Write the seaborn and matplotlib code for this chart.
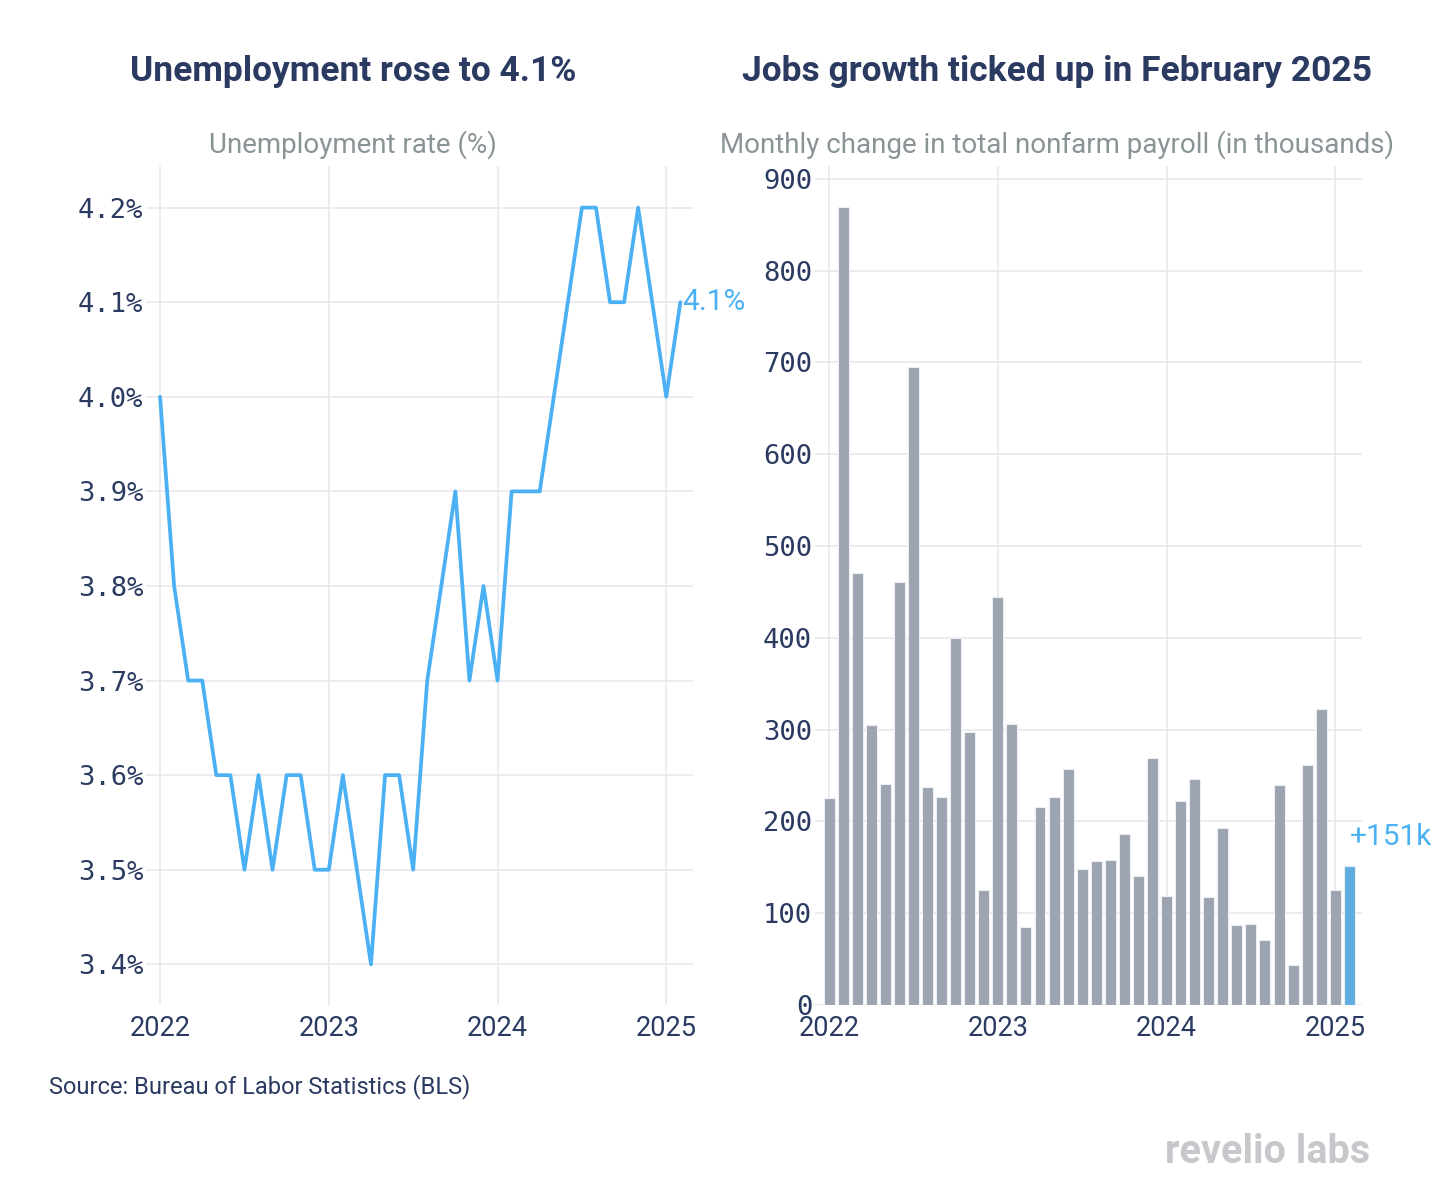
import numpy as np
import pandas as pd
import matplotlib
matplotlib.use("Agg")
import matplotlib.pyplot as plt
import seaborn as sns

sns.set_theme(style="white")
plt.rcParams["font.family"] = ["Roboto", "DejaVu Sans"]

# --- data: Jan 2022 .. Feb 2025, one value per month ---
months = pd.date_range("2022-01-01", "2025-02-01", freq="MS")
unemployment = [4.0, 3.8, 3.7, 3.7, 3.6, 3.6, 3.5, 3.6, 3.5, 3.6, 3.6, 3.5,
                3.5, 3.6, 3.5, 3.4, 3.6, 3.6, 3.5, 3.7, 3.8, 3.9, 3.7, 3.8,
                3.7, 3.9, 3.9, 3.9, 4.0, 4.1, 4.2, 4.2, 4.1, 4.1, 4.2, 4.1,
                4.0, 4.1]
payroll = [225, 869, 471, 305, 241, 461, 695, 237, 227, 400, 297, 125,
           444, 306, 85, 216, 227, 257, 148, 157, 158, 186, 141, 269,
           119, 222, 246, 118, 193, 87, 88, 71, 240, 44, 261, 323,
           125, 151]
year_ticks = [0, 12, 24, 36]
year_labels = ["2022", "2023", "2024", "2025"]
rate_ticks = [3.4, 3.5, 3.6, 3.7, 3.8, 3.9, 4.0, 4.1, 4.2]
payroll_ticks = [0, 100, 200, 300, 400, 500, 600, 700, 800, 900]

df = pd.DataFrame({
    "month": months,
    "idx": np.arange(len(months)),
    "rate": unemployment,
    "payroll": payroll,
})
df["latest"] = df["idx"] == df["idx"].max()

NAVY = "#2b3a60"
GRAY_TXT = "#8a9497"
BLUE = "#4bb1f4"
BAR = "#9aa3b4"
GRID = "#e8e8ee"

W, H = 1446, 1198
fig = plt.figure(figsize=(W / 100, H / 100), dpi=100)
fig.patch.set_facecolor("white")


def box(x0, x1, y0, y1):
    # pixel box -> figure fraction
    return [x0 / W, 1 - y1 / H, (x1 - x0) / W, (y1 - y0) / H]


ax1 = fig.add_axes(box(146, 693, 166, 1005))
ax2 = fig.add_axes(box(815, 1362, 166, 1005))

# --- left: unemployment line ---
sns.lineplot(data=df, x="idx", y="rate", ax=ax1, color=BLUE, linewidth=2.7)
ax1.set_xlim(-1.0, 37.9)
ax1.set_ylim(3.357, 4.244)
ax1.set_yticks(rate_ticks)
ax1.set_yticklabels([f"{v:.1f}%" for v in rate_ticks])
last = df.iloc[-1]
ax1.annotate(f"{last['rate']:.1f}%", xy=(last["idx"], last["rate"]),
             xytext=(1.5, 0), textcoords="offset points", va="center",
             ha="left", color=BLUE, fontsize=21.5, annotation_clip=False)

# --- right: payroll bars ---
sns.barplot(data=df, x="idx", y="payroll", hue="latest", dodge=False,
            palette={False: BAR, True: BLUE}, legend=False, width=0.78,
            edgecolor="#eceef3", linewidth=0.8, ax=ax2)
ax2.set_xlim(-1.0, 37.9)
ax2.set_ylim(0, 914)
ax2.set_yticks(payroll_ticks)
ax2.set_yticklabels([str(v) for v in payroll_ticks])
ax2.annotate(f"+{payroll[-1]}k", xy=(len(payroll) - 1, payroll[-1]),
             xytext=(0.5, 21), textcoords="offset points", va="center",
             ha="left", color=BLUE, fontsize=21.5, annotation_clip=False)

for ax in (ax1, ax2):
    ax.set_xticks(year_ticks)
    ax.set_xticklabels(year_labels)
    ax.set_xlabel("")
    ax.set_ylabel("")
    ax.grid(True, color=GRID, linewidth=1.2)
    ax.set_axisbelow(True)
    for s in ax.spines.values():
        s.set_visible(False)
    ax.tick_params(axis="x", length=0, pad=7, labelsize=19.5, labelcolor=NAVY)
    ax.tick_params(axis="y", length=0, pad=2, labelsize=19.5, labelcolor=NAVY)
    for lab in ax.get_yticklabels():
        lab.set_family("DejaVu Sans Mono")

# --- titles and notes ---
fig.text(353 / W, 1 - 72 / H, "Unemployment rose to 4.1%", ha="center",
         va="center", fontsize=25.5, fontweight="bold", color=NAVY)
fig.text(1057 / W, 1 - 72 / H, "Jobs growth ticked up in February 2025",
         ha="center", va="center", fontsize=25.5, fontweight="bold", color=NAVY)
fig.text(353 / W, 1 - 145 / H, "Unemployment rate (%)", ha="center",
         va="center", fontsize=20, color=GRAY_TXT)
fig.text(1057 / W, 1 - 145 / H,
         "Monthly change in total nonfarm payroll (in thousands)",
         ha="center", va="center", fontsize=20, color=GRAY_TXT)
fig.text(49 / W, 1 - 1087 / H, "Source: Bureau of Labor Statistics (BLS)",
         ha="left", va="center", fontsize=17, color=NAVY)
fig.text(1370 / W, 1 - 1152 / H, "revelio labs", ha="right", va="center",
         fontsize=28.5, fontweight="bold", color="#c6c8cc")

fig.savefig("out.png", dpi=100, facecolor="white")
